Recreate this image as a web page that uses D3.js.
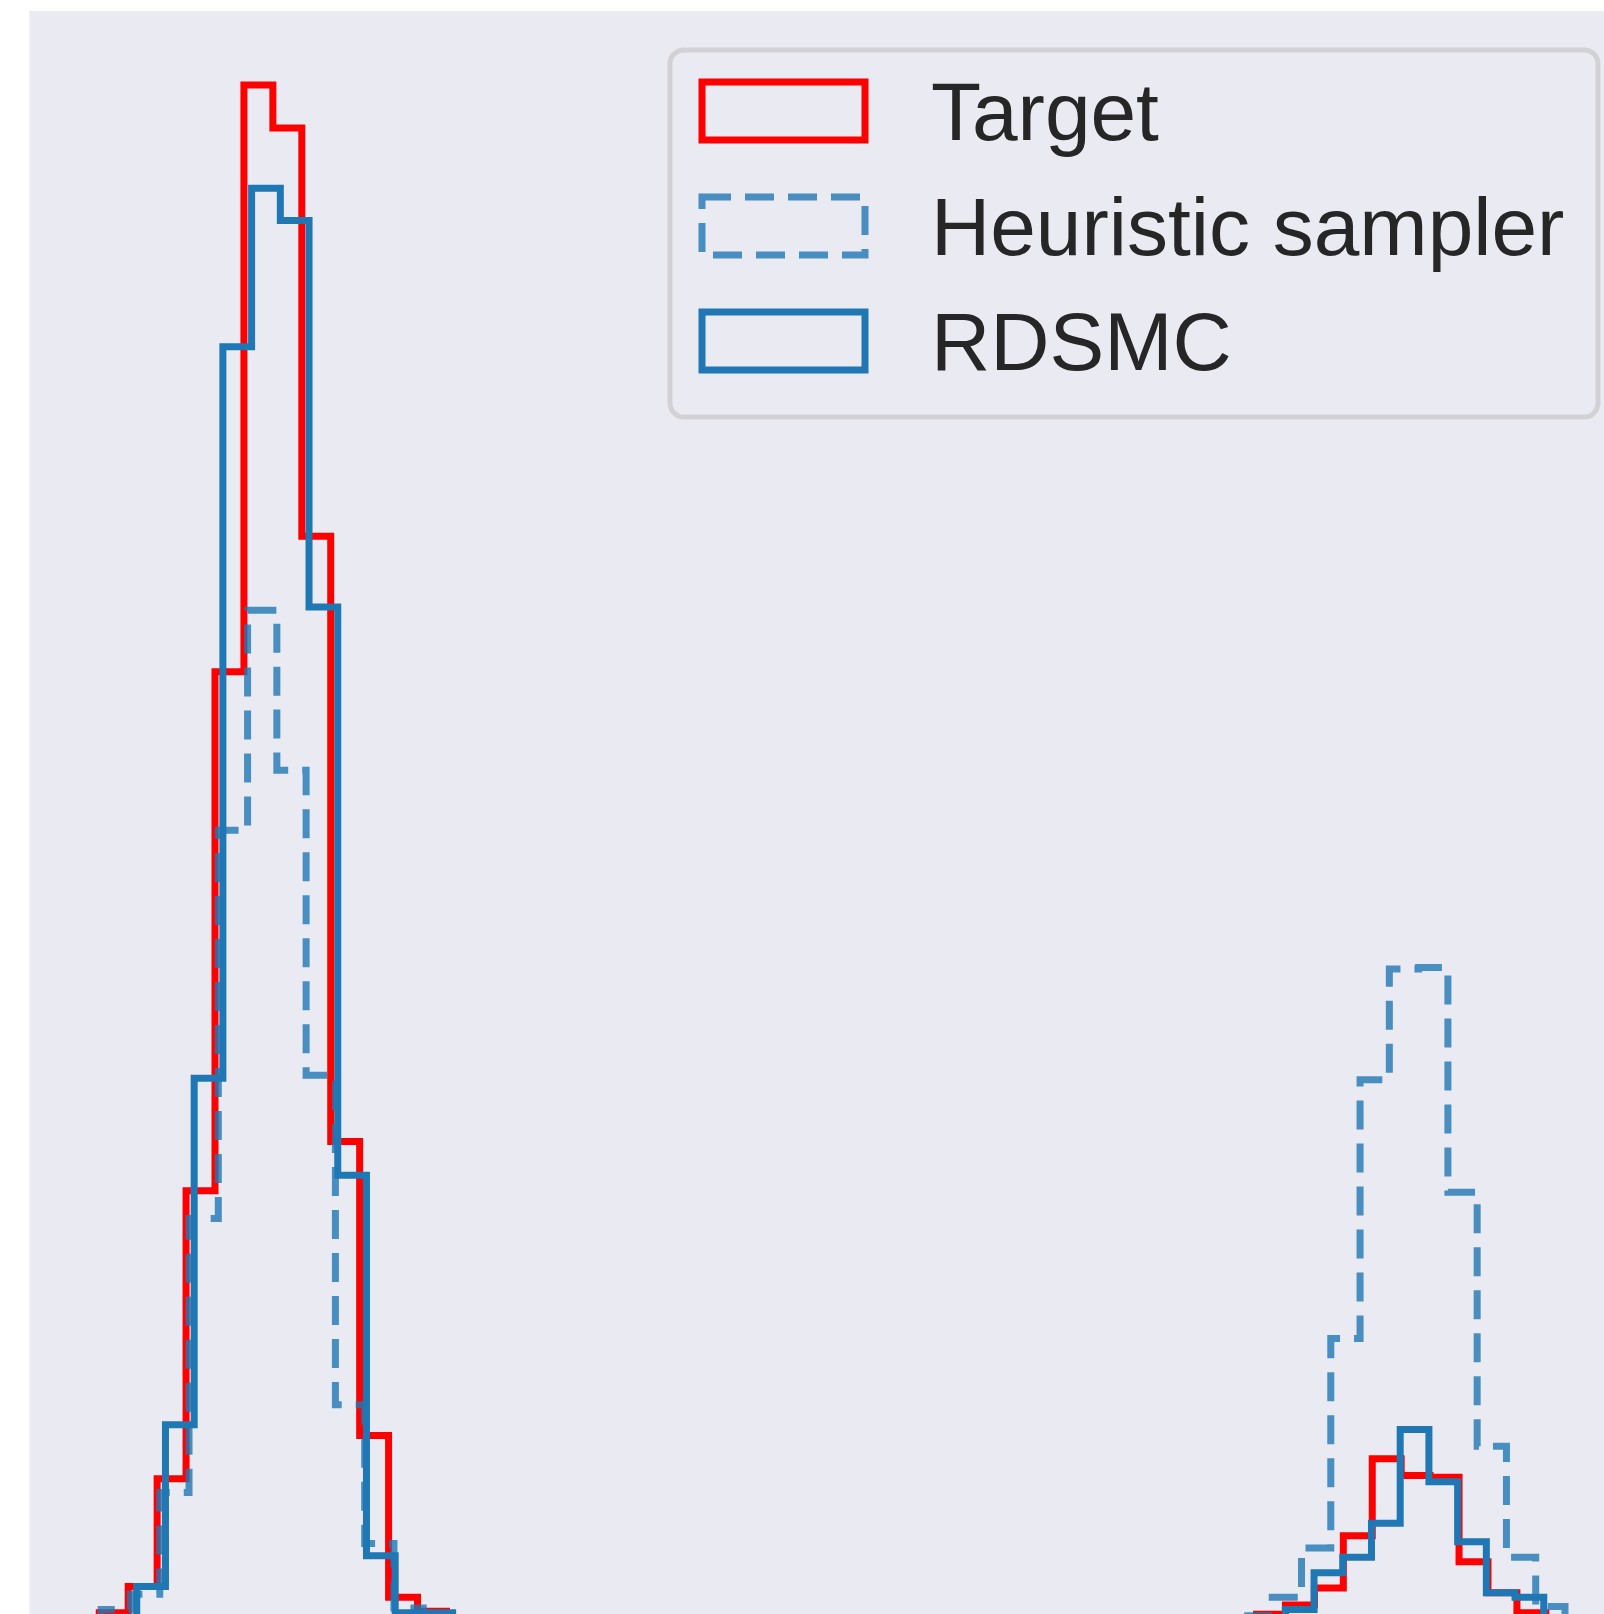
<!DOCTYPE html>
<html>
  <head>
    <title>Target vs samplers histogram</title>
    <script src="https://cdn.jsdelivr.net/npm/d3@7"></script>
    <style>
      body { margin: 0; background: #ffffff; }
    </style>
  </head>
  <body>
    <svg id="svg" width="1604" height="1614" xmlns="http://www.w3.org/2000/svg"></svg>
    <script>
      // Histogram definitions: 50 equal bins each, start + width in x units
      let seriesNames = ["Target", "Heuristic sampler", "RDSMC"];

      let targetStart = 0.709, targetWidth = 0.294;
      let targetCounts = [8, 25, 95, 282, 619, 1000, 972, 707, 314, 123, 18, 9, 3,
        0, 0, 0, 0, 0, 0, 0, 0, 0, 0, 0, 0, 0, 0, 0, 0, 0, 0, 0, 0, 0, 0, 0, 0, 0, 0,
        3, 7, 13, 24, 58, 108, 97, 96, 41, 21, 8];

      let heuristicStart = 0.7286, heuristicWidth = 0.2975;
      let heuristicCounts = [10, 20, 86, 264, 516, 659, 555, 357, 143, 53, 11, 4,
        0, 0, 0, 0, 0, 0, 0, 0, 0, 0, 0, 0, 0, 0, 0, 0, 0, 0, 0, 0, 0, 0, 0, 0, 0, 0, 0,
        6, 18, 50, 186, 354, 426, 427, 281, 116, 44, 12];

      let rdsmcStart = 0.798, rdsmcWidth = 0.2918;
      let rdsmcCounts = [5, 25, 130, 355, 830, 933, 912, 661, 292, 45, 8, 8, 3,
        0, 0, 0, 0, 0, 0, 0, 0, 0, 0, 0, 0, 0, 0, 0, 0, 0, 0, 0, 0, 0, 0, 0, 0, 0, 0, 0,
        4, 10, 34, 44, 66, 127, 93, 54, 21, 18];

      let svg = d3.select("svg");

      // plot area (figure is cropped: right and bottom run off the picture)
      let plotLeft = 29.5, plotTop = 11, plotRight = 1604, plotBottom = 1614;

      let x = d3.scaleLinear().domain([0, 16]).range([plotLeft, plotRight]);
      let y = d3.scaleLinear().domain([0, 1000]).range([1625, 85]);

      svg.append("rect")
        .attr("x", plotLeft)
        .attr("y", plotTop)
        .attr("width", plotRight - plotLeft)
        .attr("height", plotBottom - plotTop)
        .attr("fill", "#eaeaf2");

      let plot = svg.append("g");

      // outline of a step histogram, like histtype="step"
      function stepPoints(start, width, counts) {
        let pts = [[start, 0]];
        counts.forEach((c, i) => {
          pts.push([start + i * width, c]);
          pts.push([start + (i + 1) * width, c]);
        });
        pts.push([start + counts.length * width, 0]);
        return pts;
      }

      let line = d3.line()
        .x((d) => x(d[0]))
        .y((d) => y(d[1]));

      // Target
      plot.append("path")
        .attr("d", line(stepPoints(targetStart, targetWidth, targetCounts)))
        .attr("fill", "none")
        .attr("stroke", "#ff0000")
        .attr("stroke-width", 7)
        .attr("stroke-linejoin", "miter");

      // Heuristic sampler (dashed, semi-transparent)
      plot.append("path")
        .attr("d", line(stepPoints(heuristicStart, heuristicWidth, heuristicCounts)))
        .attr("fill", "none")
        .attr("stroke", "#1f77b4")
        .attr("stroke-opacity", 0.8)
        .attr("stroke-width", 7)
        .attr("stroke-dasharray", "29,14")
        .attr("stroke-linejoin", "miter");

      // RDSMC
      plot.append("path")
        .attr("d", line(stepPoints(rdsmcStart, rdsmcWidth, rdsmcCounts)))
        .attr("fill", "none")
        .attr("stroke", "#1f77b4")
        .attr("stroke-width", 7)
        .attr("stroke-linejoin", "miter");

      // Legend
      let legend = svg.append("g");
      legend.append("rect")
        .attr("x", 670)
        .attr("y", 50)
        .attr("width", 928)
        .attr("height", 367)
        .attr("rx", 14)
        .attr("fill", "#eaeaf2")
        .attr("fill-opacity", 0.8)
        .attr("stroke", "#cccccc")
        .attr("stroke-opacity", 0.8)
        .attr("stroke-width", 5);

      let handles = [
        { stroke: "#ff0000", opacity: 1, dash: null },
        { stroke: "#1f77b4", opacity: 0.8, dash: "29,14" },
        { stroke: "#1f77b4", opacity: 1, dash: null },
      ];

      seriesNames.forEach((name, i) => {
        let rowY = 82 + i * 115;
        legend.append("rect")
          .attr("x", 702)
          .attr("y", rowY)
          .attr("width", 163)
          .attr("height", 58)
          .attr("fill", "none")
          .attr("stroke", handles[i].stroke)
          .attr("stroke-opacity", handles[i].opacity)
          .attr("stroke-width", 7)
          .attr("stroke-dasharray", handles[i].dash);

        legend.append("text")
          .attr("x", 931)
          .attr("y", 140 + i * 115)
          .attr("font-family", "'Liberation Sans', Arial, sans-serif")
          .attr("font-size", 82)
          .attr("fill", "#262626")
          .text(name);
      });
    </script>
  </body>
</html>
